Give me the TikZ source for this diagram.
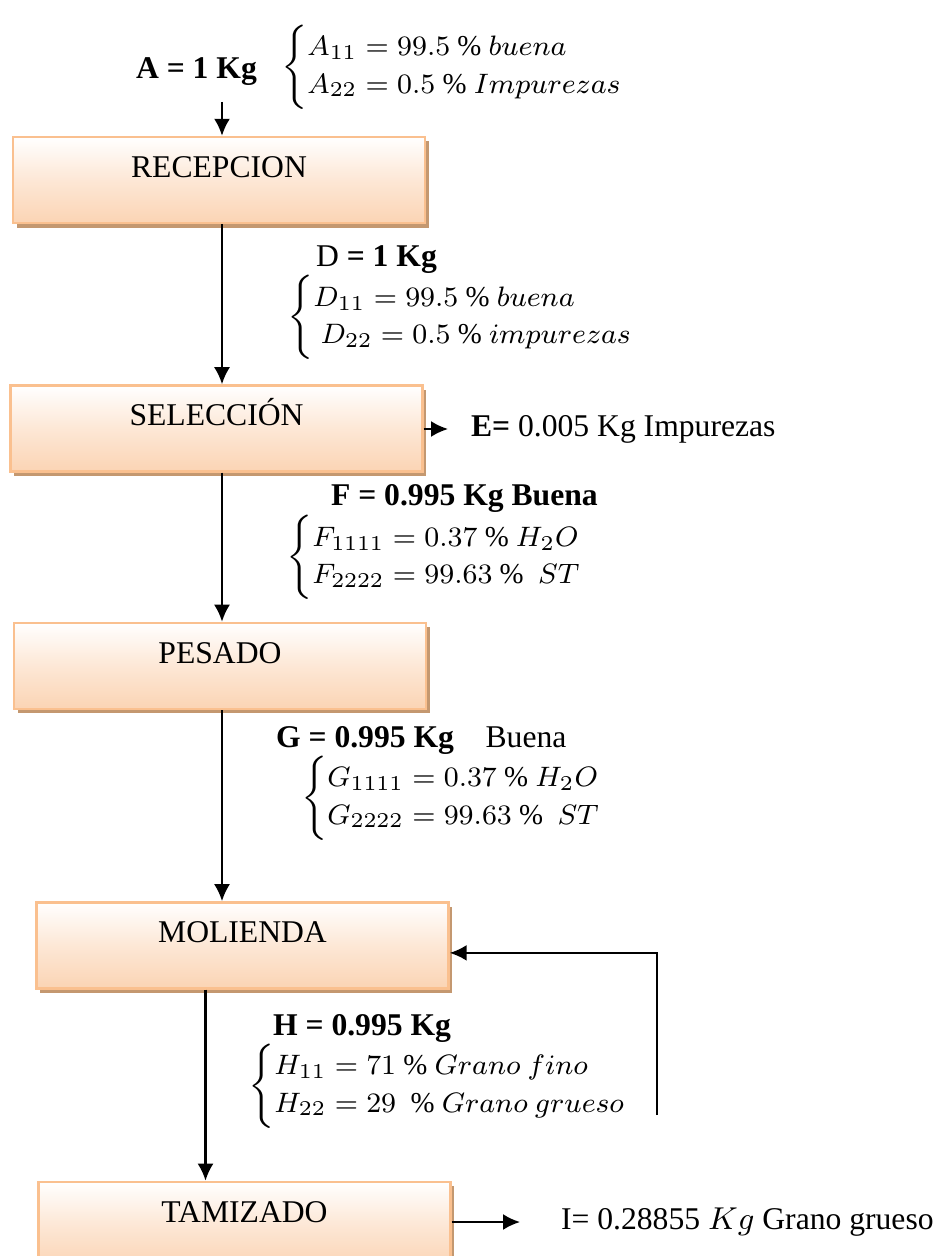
\documentclass[tikz,border=0pt]{standalone}
\usepackage{fontspec}
\setmainfont{Liberation Serif}
\usetikzlibrary{arrows.meta,positioning,shadows}

\definecolor{peach}{RGB}{251,212,180}
\definecolor{peachline}{RGB}{250,192,143}
\definecolor{shadowtan}{RGB}{196,152,112}

\begin{document}
\begin{tikzpicture}[node distance=1.6cm, >={Latex[length=1.7mm,width=1.6mm]}, line width=0.6pt,
  font=\fontsize{9}{10.8}\selectfont,
  op/.style={draw=peachline, line width=0.7pt, top color=white, bottom color=peach, middle color=peach!55,
    minimum width=4.12cm, minimum height=0.86cm, text height=6pt, text depth=7.5pt,
    general shadow={fill=shadowtan, shadow xshift=0.35mm, shadow yshift=-0.45mm}},
  lbl/.style={anchor=west, inner sep=0pt},
  comp/.style={lbl, font=\fontsize{8.2}{10.6}\selectfont}]
\useasboundingbox (0,0) rectangle (9.41,-12.56);
\clip (0,0) rectangle (9.41,-12.56);

% process chain
\node[op] (recep) at (2.19,-1.80) {RECEPCION};
\node[op, below=1.6cm of recep, xshift=-0.025cm] (sel) {SELECCIÓN};
\node[op, below=1.49cm of sel, xshift=0.035cm] (pes) {PESADO};
\node[op, below=1.91cm of pes, xshift=0.225cm] (mol) {MOLIENDA};
\node[op, below=1.91cm of mol, xshift=0.02cm] (tam) {TAMIZADO};

% streams
\node[lbl] (ain) at (1.35,-0.72) {\textbf{A = 1 Kg}};
\node[comp] (acomp) at (2.80,-0.67) {$\left\{\begin{array}{@{}l@{}} A_{11} = 99.5\ \%\ buena\\ A_{22} = 0.5\ \%\ Impurezas\end{array}\right.$};

\node[lbl] (dlab) at (3.15,-2.60) {D \textbf{= 1 Kg}};
\node[comp] (dcomp) at (2.86,-3.175) {$\left\{\begin{array}{@{}l@{}} D_{11} = 99.5\ \%\ buena\\ \ D_{22} = 0.5\ \%\ impurezas\end{array}\right.$};

\node[lbl] (elab) at (4.70,-4.29) {\textbf{E=} 0.005 Kg Impurezas};

\node[lbl] (flab) at (3.30,-4.98) {\textbf{F = 0.995 Kg Buena}};
\node[comp] (fcomp) at (2.85,-5.575) {$\left\{\begin{array}{@{}l@{}} F_{1111} = 0.37\ \%\ H_2O\\ F_{2222} = 99.63\ \%\ \ ST\end{array}\right.$};

\node[lbl] (glab) at (2.75,-7.40) {\textbf{G = 0.995 Kg}\quad Buena};
\node[comp] (gcomp) at (3.00,-7.98) {$\left\{\begin{array}{@{}l@{}} G_{1111} = 0.37\ \%\ H_2O\\ G_{2222} = 99.63\ \%\ \ ST\end{array}\right.$};

\node[lbl] (hlab) at (2.72,-10.28) {\textbf{H = 0.995 Kg}};
\node[comp] (hcomp) at (2.47,-10.86) {$\left\{\begin{array}{@{}l@{}} H_{11} = 71\ \%\ Grano\ fino\\ H_{22} = 29\ \ \%\ Grano\ grueso\end{array}\right.$};

\node[lbl] (ilab) at (5.60,-12.22) {I= 0.28855 $Kg$ Grano grueso};

\coordinate (ret) at (6.57,-11.15);

% connectors
\draw[->, shorten <=1.5mm] ([xshift=0.03cm]recep.north |- ain.south) -- ([xshift=0.03cm]recep.north);
\draw[->] ([xshift=0.03cm]recep.south) -- ([xshift=0.03cm]recep.south |- sel.north);
\draw[->] ([xshift=0.055cm]sel.south) -- ([xshift=0.055cm]sel.south |- pes.north);
\draw[->] ([xshift=0.02cm]pes.south) -- ([xshift=0.02cm]pes.south |- mol.north);
\draw[->] ([xshift=-0.37cm]mol.south) -- ([xshift=-0.37cm]mol.south |- tam.north);
\draw[->, shorten >=2.2mm] (sel.east |- elab.west) -- (elab.west);
\draw[->, shorten >=4mm] (tam.east |- ilab.west) -- (ilab.west);
\draw[->] (ret) |- ([yshift=-0.075cm]mol.east);
\end{tikzpicture}
\end{document}
